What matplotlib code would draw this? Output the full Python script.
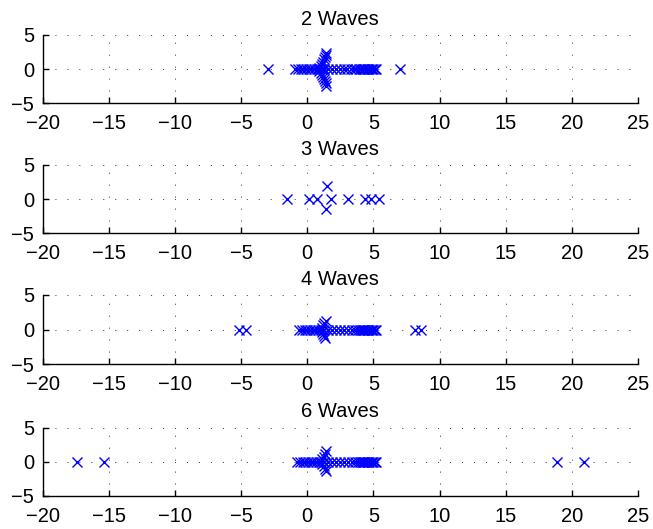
import matplotlib
matplotlib.use("Agg")
import matplotlib.pyplot as plt
import numpy as np

plt.rcParams['font.family'] = ['Liberation Sans', 'DejaVu Sans']

titles = ["2 Waves", "3 Waves", "4 Waves", "6 Waves"]

# 2 Waves
w2_re = [-3.0, -0.9, -0.7, -0.5, -0.3, -0.1, 0.1, 0.3, 0.5, 0.7, 0.9, 1.1, 1.3,
         1.6, 1.9, 2.2, 2.5, 2.8, 3.0, 3.3, 3.5, 3.7, 3.9, 4.05, 4.2, 4.3, 4.4,
         4.5, 4.6, 4.7, 4.8, 4.9, 5.0, 5.1, 5.2, 7.0,
         0.9, 1.0, 1.1, 1.2, 1.3, 1.35, 1.4, 1.45,
         0.9, 1.0, 1.1, 1.2, 1.3, 1.35, 1.4, 1.45]
w2_im = [0.0] * 36 + [0.2, 0.5, 0.8, 1.1, 1.5, 1.8, 2.1, 2.4,
                      -0.2, -0.5, -0.8, -1.1, -1.5, -1.8, -2.1, -2.4]

# 3 Waves
w3_re = [-1.5, 0.15, 0.73, 1.49, 1.44, 1.81, 3.08, 4.38, 4.84, 5.44]
w3_im = [0.0, 0.0, 0.0, 1.9, -1.43, 0.0, 0.0, 0.0, 0.0, 0.0]

# 4 Waves
w4_re = [-5.14, -4.63, -0.6, -0.4, -0.2, 0.0, 0.2, 0.4, 0.6, 0.8, 1.0, 1.2,
         1.6, 1.9, 2.2, 2.5, 2.8, 3.1, 3.4, 3.6, 3.8, 3.95, 4.1, 4.2, 4.3,
         4.4, 4.5, 4.6, 4.7, 4.8, 4.9, 5.0, 5.1, 5.2, 8.16, 8.62,
         1.1, 1.2, 1.3, 1.4, 1.1, 1.2, 1.3, 1.35]
w4_im = [0.0] * 36 + [0.3, 0.6, 0.95, 1.3, -0.3, -0.6, -0.95, -1.25]

# 6 Waves
w6_re = [-17.43, -15.34, -0.75, -0.55, -0.35, -0.15, 0.05, 0.25, 0.45, 0.65,
         0.85, 1.05, 1.25, 1.6, 1.9, 2.2, 2.5, 2.8, 3.1, 3.4, 3.6, 3.8, 3.95,
         4.1, 4.2, 4.3, 4.4, 4.5, 4.6, 4.7, 4.8, 4.9, 5.0, 5.1, 5.2, 18.9, 20.94,
         1.15, 1.25, 1.35, 1.45, 1.15, 1.25, 1.35, 1.4]
w6_im = [0.0] * 37 + [0.35, 0.7, 1.1, 1.6, -0.35, -0.7, -1.05, -1.4]

series = [(w2_re, w2_im), (w3_re, w3_im), (w4_re, w4_im), (w6_re, w6_im)]

xticks = [-20, -15, -10, -5, 0, 5, 10, 15, 20, 25]
yticks = [-5, 0, 5]

W, H = 653, 529
fig = plt.figure(figsize=(W / 100, H / 100), dpi=100)

tops = [35, 165, 295, 427.7]
bottoms = [103.3, 233.3, 364.3, 495.7]
left_px, right_px = 42.7, 638.0

for i, (title, (re, im)) in enumerate(zip(titles, series)):
    ax = fig.add_axes([left_px / W, 1 - bottoms[i] / H,
                       (right_px - left_px) / W, (bottoms[i] - tops[i]) / H])
    ax.plot(re, im, linestyle='none', marker='x', color=(0, 0, 1),
            markersize=6.5, markeredgewidth=1.0)
    ax.set_xlim(-20, 25)
    ax.set_ylim(-5, 5)
    ax.set_xticks(xticks)
    ax.set_yticks(yticks)
    ax.spines['top'].set_visible(False)
    ax.spines['right'].set_visible(False)
    for s in ('left', 'bottom'):
        ax.spines[s].set_linewidth(1.0)
    ax.tick_params(direction='in', length=4.3, width=1.0, labelsize=14.5)
    ax.tick_params(axis='x', pad=8.0)
    ax.tick_params(axis='y', pad=6.0)
    ax.grid(True, color='0.2', linewidth=0.7, linestyle=(0, (1, 11.3)))
    ax.set_axisbelow(True)
    ax.set_title(title, fontsize=14.5, pad=7.5)

fig.savefig("out.png", dpi=100)
